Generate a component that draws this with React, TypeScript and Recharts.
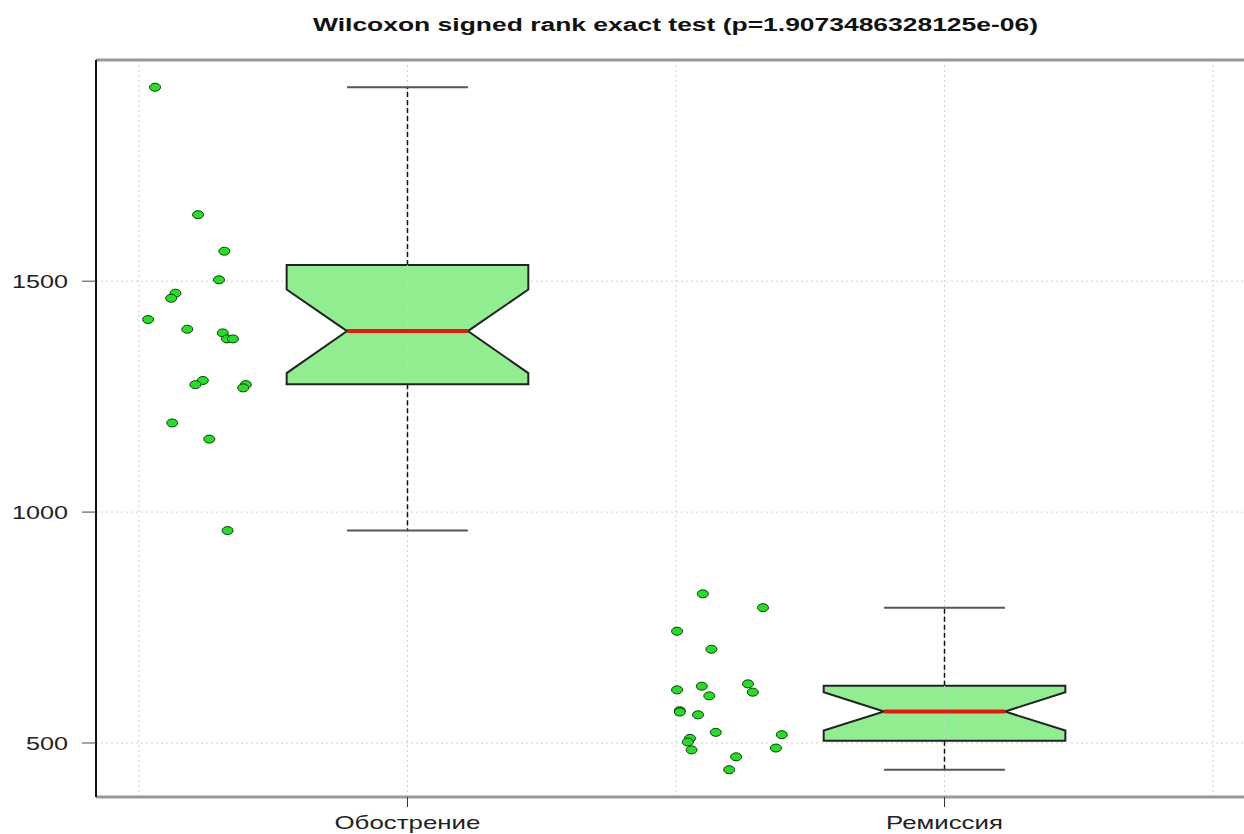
import React from 'react';
import { ComposedChart, Scatter, XAxis, YAxis, ReferenceLine } from 'recharts';

// groups and box statistics
const groups = ['Обострение', 'Ремиссия'];
const groupPos = [1, 2];
const boxMin = [960, 442];
const boxQ1 = [1277, 505];
const boxNotchLo = [1301, 527];
const boxMedian = [1392, 568];
const boxNotchHi = [1482, 610];
const boxQ3 = [1535, 624];
const boxMax = [1920, 793];

// jittered raw values
const exacX = [0.53, 0.61, 0.659, 0.649, 0.568, 0.56, 0.517, 0.59, 0.656, 0.664, 0.675, 0.619, 0.605, 0.699, 0.694, 0.562, 0.631, 0.665];
const exacY = [1920, 1644, 1565, 1503, 1474, 1463, 1417, 1396, 1388, 1375, 1375, 1285, 1276, 1276, 1269, 1193, 1158, 960];
const remX = [1.55, 1.662, 1.502, 1.566, 1.502, 1.548, 1.562, 1.634, 1.643, 1.507, 1.507, 1.541, 1.574, 1.697, 1.526, 1.522, 1.529, 1.686, 1.612, 1.599];
const remY = [823, 793, 742, 703, 615, 623, 602, 628, 610, 570, 567, 561, 523, 518, 510, 502, 485, 489, 470, 442];

const yTicks = [500, 1000, 1500];
const xGrid = [0.5, 1, 1.5, 2, 2.5];
const xDomain = [0.42, 2.58];
const yDomain = [383, 1979];

const title = 'Wilcoxon signed rank exact test (p=1.9073486328125e-06)';

const HALF = 0.225;
const NOTCH = 0.1125;
const FONT = '"Liberation Sans", Arial, sans-serif';

const toPoints = (xs: number[], ys: number[]) => xs.map((x, i) => ({ x, y: ys[i] }));

// outline of a notched box, vertices 3 and 8 are the notch tips at the median
const boxOutline = (i: number) => {
  const c = groupPos[i];
  return [
    { x: c - HALF, y: boxQ3[i] },
    { x: c + HALF, y: boxQ3[i] },
    { x: c + HALF, y: boxNotchHi[i] },
    { x: c + NOTCH, y: boxMedian[i] },
    { x: c + HALF, y: boxNotchLo[i] },
    { x: c + HALF, y: boxQ1[i] },
    { x: c - HALF, y: boxQ1[i] },
    { x: c - HALF, y: boxNotchLo[i] },
    { x: c - NOTCH, y: boxMedian[i] },
    { x: c - HALF, y: boxNotchHi[i] },
  ];
};

const BoxShape = (props: any) => {
  const pts = props.points || [];
  if (pts.length < 10) return <g />;
  const cx = (pts[3].x + pts[8].x) / 2;
  return (
    <g>
      <polygon
        points={pts.map((p: any) => `${p.x},${p.y}`).join(' ')}
        fill="#90ee90"
        stroke="#222"
        strokeWidth={2}
      />
      <line x1={cx} x2={cx} y1={pts[0].y} y2={pts[5].y} stroke="#cfcfcf" strokeDasharray="2 3" />
      <line x1={pts[8].x} x2={pts[3].x} y1={pts[3].y} y2={pts[3].y} stroke="#e8160c" strokeWidth={4} />
    </g>
  );
};

const Dot = (p: any) => (
  <ellipse cx={p.cx} cy={p.cy} rx={5.5} ry={4} fill="#22e022" stroke="#0f3a0f" strokeWidth={1} />
);

const YTick = ({ x, y, payload }: any) => {
  const s = String(payload.value);
  return (
    <text
      x={x - s.length * 14}
      y={y + 7}
      fontSize={19}
      fontFamily={FONT}
      fill="#222"
      textLength={s.length * 14}
      lengthAdjust="spacingAndGlyphs"
    >
      {s}
    </text>
  );
};

const XTick = ({ x, y, payload }: any) => {
  const idx = groupPos.indexOf(payload.value);
  const label = groups[idx] ?? '';
  return (
    <text
      x={x}
      y={y + 20}
      textAnchor="middle"
      fontSize={19}
      fontFamily={FONT}
      fill="#222"
      textLength={label.length * 14.6}
      lengthAdjust="spacingAndGlyphs"
    >
      {label}
    </text>
  );
};

export default function App() {
  return (
    <div
      style={{
        position: 'absolute',
        left: 0,
        top: 0,
        width: 1244,
        height: 834,
        overflow: 'hidden',
        background: '#fff',
      }}
    >
      <svg width={1244} height={50} style={{ position: 'absolute', left: 0, top: 0 }}>
        <text
          x={675.5}
          y={31}
          textAnchor="middle"
          fontWeight="bold"
          fontSize={18}
          fontFamily={FONT}
          fill="#111"
          textLength={725}
          lengthAdjust="spacingAndGlyphs"
        >
          {title}
        </text>
      </svg>
      <ComposedChart width={1300} height={834} margin={{ top: 60, right: 44, bottom: 0, left: 0 }}>
        <XAxis
          type="number"
          dataKey="x"
          domain={xDomain}
          ticks={groupPos}
          allowDataOverflow
          height={37}
          axisLine={{ stroke: '#999', strokeWidth: 3 }}
          tickLine={{ stroke: '#333' }}
          tickSize={10}
          tick={<XTick />}
        />
        <YAxis
          type="number"
          dataKey="y"
          domain={yDomain}
          ticks={yTicks}
          allowDataOverflow
          width={96}
          axisLine={{ stroke: '#111', strokeWidth: 2 }}
          tickLine={{ stroke: '#444' }}
          tickSize={14}
          tickMargin={14}
          tick={<YTick />}
        />
        {xGrid.map((x) => (
          <ReferenceLine key={`gx-${x}`} x={x} stroke="#cfcfcf" strokeDasharray="2 3" />
        ))}
        {yTicks.map((y) => (
          <ReferenceLine key={`gy-${y}`} y={y} stroke="#cfcfcf" strokeDasharray="2 3" />
        ))}
        {groupPos.map((c, i) => (
          <ReferenceLine
            key={`wu-${i}`}
            segment={[{ x: c, y: boxQ3[i] }, { x: c, y: boxMax[i] }]}
            stroke="#111"
            strokeWidth={1.5}
            strokeDasharray="5 3"
          />
        ))}
        {groupPos.map((c, i) => (
          <ReferenceLine
            key={`wl-${i}`}
            segment={[{ x: c, y: boxQ1[i] }, { x: c, y: boxMin[i] }]}
            stroke="#111"
            strokeWidth={1.5}
            strokeDasharray="5 3"
          />
        ))}
        {groupPos.map((c, i) => (
          <ReferenceLine
            key={`cu-${i}`}
            segment={[{ x: c - NOTCH, y: boxMax[i] }, { x: c + NOTCH, y: boxMax[i] }]}
            stroke="#555"
            strokeWidth={2}
          />
        ))}
        {groupPos.map((c, i) => (
          <ReferenceLine
            key={`cl-${i}`}
            segment={[{ x: c - NOTCH, y: boxMin[i] }, { x: c + NOTCH, y: boxMin[i] }]}
            stroke="#555"
            strokeWidth={2}
          />
        ))}
        <ReferenceLine y={yDomain[1]} stroke="#999" strokeWidth={3} />
        {groupPos.map((c, i) => (
          <Scatter
            key={`box-${i}`}
            data={boxOutline(i)}
            line={BoxShape}
            lineType="joint"
            shape={() => <g />}
            isAnimationActive={false}
          />
        ))}
        <Scatter data={toPoints(exacX, exacY)} shape={Dot} isAnimationActive={false} />
        <Scatter data={toPoints(remX, remY)} shape={Dot} isAnimationActive={false} />
      </ComposedChart>
    </div>
  );
}
